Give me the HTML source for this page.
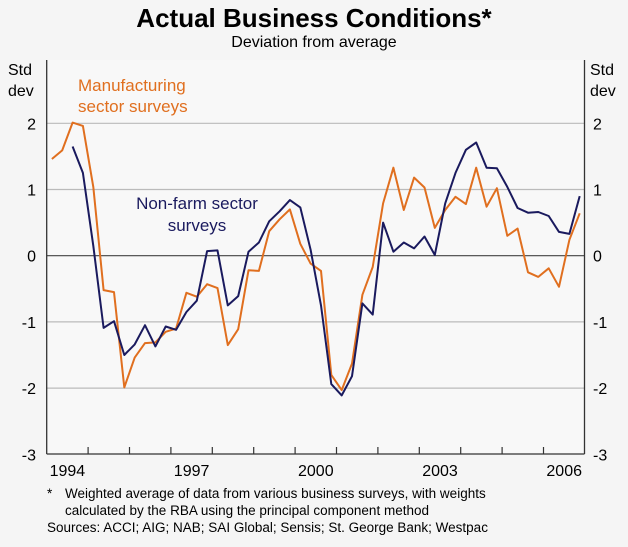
<!DOCTYPE html>
<html><head><meta charset="utf-8"><style>
html,body{margin:0;padding:0;background:#f5f5f5;}
body{width:628px;height:542px;overflow:hidden;font-family:"Liberation Sans",Arial,sans-serif;}
</style></head><body>
<svg width="628" height="542" viewBox="0 0 628 542" xmlns="http://www.w3.org/2000/svg" font-family="Liberation Sans, Arial, sans-serif">
<rect x="0" y="0" width="628" height="542" fill="#f5f5f5"/>
<text x="314" y="27" text-anchor="middle" font-size="26" font-weight="bold" fill="#000">Actual Business Conditions*</text>
<text x="314" y="47" text-anchor="middle" font-size="16" fill="#000">Deviation from average</text>
<text x="8" y="75" font-size="16">Std</text>
<text x="8" y="96" font-size="16">dev</text>
<text x="590" y="75" font-size="16">Std</text>
<text x="590" y="96" font-size="16">dev</text>
<rect x="46.7" y="60" width="538" height="394" fill="#f8f8f8"/>
<g id="grid"></g>
<g id="series"></g>
<line x1="46.7" y1="60" x2="46.7" y2="454" stroke="#333" stroke-width="1.3"/>
<line x1="584.5" y1="60" x2="584.5" y2="454" stroke="#333" stroke-width="1.3"/>
<line x1="46.7" y1="454" x2="584.5" y2="454" stroke="#333" stroke-width="1.3"/>
<g id="labels"></g>
<text x="78" y="91" font-size="17" fill="#e06f1f">Manufacturing</text>
<text x="78" y="112" font-size="17" fill="#e06f1f">sector surveys</text>
<text x="197" y="209" text-anchor="middle" font-size="17" fill="#1a1a5e">Non-farm sector</text>
<text x="197" y="231" text-anchor="middle" font-size="17" fill="#1a1a5e">surveys</text>
<text x="47" y="498" font-size="13.5">*</text>
<text x="65" y="498" font-size="13.5">Weighted average of data from various business surveys, with weights</text>
<text x="65" y="515" font-size="13.5">calculated by the RBA using the principal component method</text>
<text x="47" y="532" font-size="13.5">Sources: ACCI; AIG; NAB; SAI Global; Sensis; St. George Bank; Westpac</text>
</svg>
<script>
const yTicks=[2,1,0,-1,-2,-3];
const yearLabels=["1994","1997","2000","2003","2006"];
const manufacturing=[1.46,1.59,2.01,1.96,1.04,-0.52,-0.55,-1.99,-1.54,-1.32,-1.31,-1.15,-1.10,-0.56,-0.62,-0.43,-0.49,-1.35,-1.11,-0.22,-0.23,0.37,0.55,0.70,0.18,-0.12,-0.23,-1.80,-2.03,-1.63,-0.59,-0.17,0.79,1.33,0.69,1.18,1.03,0.42,0.69,0.89,0.78,1.33,0.74,1.02,0.30,0.41,-0.25,-0.32,-0.19,-0.47,0.24,0.64];
const nonfarm=[null,null,1.65,1.25,0.15,-1.09,-0.99,-1.50,-1.34,-1.05,-1.37,-1.07,-1.12,-0.85,-0.68,0.07,0.08,-0.75,-0.61,0.06,0.20,0.52,0.67,0.84,0.73,0.09,-0.75,-1.94,-2.11,-1.82,-0.72,-0.89,0.50,0.06,0.20,0.11,0.29,0.01,0.79,1.25,1.60,1.71,1.33,1.32,1.04,0.72,0.65,0.66,0.60,0.36,0.33,0.90];
const NS="http://www.w3.org/2000/svg";
const X0=46.7,YW=41.4,Y0=255.7,U=66.2;
const xq=i=>X0+YW/4*(i+0.5);
const yv=v=>Y0-v*U;
const grid=document.getElementById('grid'),labels=document.getElementById('labels'),series=document.getElementById('series');
function mk(tag,attrs,parent){const e=document.createElementNS(NS,tag);for(const k in attrs)e.setAttribute(k,attrs[k]);parent.appendChild(e);return e;}
yTicks.forEach(t=>{
  if(t>-3){const l=mk('line',{x1:X0,x2:584.5,y1:yv(t),y2:yv(t),stroke:t===0?'#444':'#bbb','stroke-width':1.2},grid);
  
  }
  const a=mk('text',{x:36,y:yv(t)+6,'text-anchor':'end','font-size':16},labels);a.textContent=t;
  
  
  const b=mk('text',{x:593,y:yv(t)+6,'font-size':16},labels);b.textContent=t;
  
  
});
for(let k=1;k<13;k++){const x=X0+YW*k;const l=mk('line',{x1:x,x2:x,y1:447,y2:454,stroke:'#333','stroke-width':1.2},grid);
  
  }
yearLabels.forEach(y=>{const k=+y-1994;const t=mk('text',{x:X0+YW*(k+0.5),y:476,'text-anchor':'middle','font-size':16},labels);t.textContent=y;
  
  });
function draw(arr,color,name){let d='';let pen=false;arr.forEach((v,i)=>{if(v===null){pen=false;return;}d+=(pen?'L':'M')+xq(i).toFixed(1)+','+yv(v).toFixed(1);pen=true;});
  const p=mk('path',{d:d,fill:'none',stroke:color,'stroke-width':2,'stroke-linejoin':'round'},series);
  
  }
draw(manufacturing,'#e06f1f','manufacturing-line');
draw(nonfarm,'#1a1a5e','nonfarm-line');
</script>
</body></html>
